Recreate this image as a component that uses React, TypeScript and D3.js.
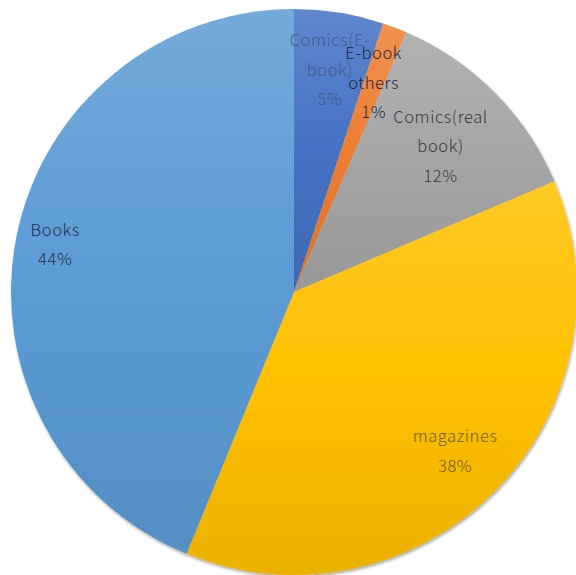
import React from "react";
import * as d3 from "d3";

const categories = ["Comics(E-book)", "E-book others", "Comics(real book)", "magazines", "Books"];
const values = [5.1, 1.4, 12.1, 37.6, 43.8];
const labelLines = [["Comics(E-", "book)"], ["E-book", "others"], ["Comics(real", "book)"], ["magazines"], ["Books"]];
const colors = ["#4472c4", "#ed7d31", "#a5a5a5", "#ffc000", "#5b9bd5"];

// layout (not data)
const W = 576, H = 575;
const CX = 294, CY = 292, R = 283;
const labelRadius = [0.795, 0.79, 0.73, 0.8, 0.86];
const labelColors = ["#435a85", "#1c2440", "#363636", "#6b5a22", "#1f2f48"];
const LINE = 29.5;

export default function App() {
  const pie = d3.pie<number>().sort(null).startAngle(0).endAngle(2 * Math.PI);
  const arcs = pie(values);
  const arc = d3.arc<d3.PieArcDatum<number>>().innerRadius(0).outerRadius(R);
  const fmt = d3.format(".0%");
  const total = d3.sum(values);

  return (
    <svg width={W} height={H} style={{ position: "absolute", left: 0, top: 0 }}>
      <defs>
        {colors.map((c, i) => (
          <linearGradient key={i} id={`g${i}`} x1="0" y1="0" x2="0" y2="1">
            <stop offset="0" stopColor={d3.interpolateRgb(c, "#ffffff")(0.15)} />
            <stop offset="0.5" stopColor={c} />
            <stop offset="1" stopColor={d3.interpolateRgb(c, "#000000")(0.08)} />
          </linearGradient>
        ))}
        <filter id="sh" x="-10%" y="-10%" width="120%" height="120%">
          <feDropShadow dx="1" dy="2" stdDeviation="1.8" floodColor="#000" floodOpacity="0.35" />
        </filter>
      </defs>
      <g transform={`translate(${CX},${CY})`}>
        <g filter="url(#sh)">
          {arcs.map((a, i) => (
            <path key={i} d={arc(a) || ""} fill={`url(#g${i})`} />
          ))}
        </g>
        {arcs.map((a, i) => {
          const mid = (a.startAngle + a.endAngle) / 2;
          const rr = R * labelRadius[i];
          const x = rr * Math.sin(mid);
          const y = -rr * Math.cos(mid);
          const lines = [...labelLines[i], fmt(values[i] / total)];
          const y0 = y - ((lines.length - 1) * LINE) / 2;
          return (
            <text
              key={i}
              x={x}
              textAnchor="middle"
              fill={labelColors[i]}
              style={{
                fontFamily: "'Noto Sans CJK JP', 'Noto Sans', sans-serif",
                fontSize: 16.5,
                fontWeight: 300,
                letterSpacing: 0.6,
              }}
            >
              {lines.map((l, j) => (
                <tspan key={j} x={x} y={y0 + j * LINE} dy="0.35em">
                  {l}
                </tspan>
              ))}
            </text>
          );
        })}
      </g>
    </svg>
  );
}
